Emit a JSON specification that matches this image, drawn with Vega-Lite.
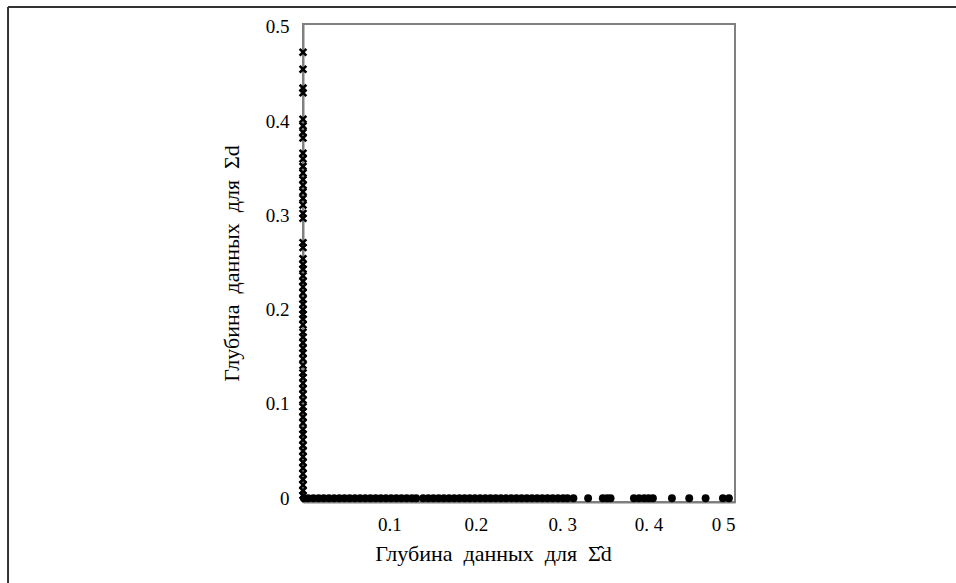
{
  "$schema": "https://vega.github.io/schema/vega-lite/v6.json",
  "width": 432,
  "height": 478,
  "autosize": "none",
  "padding": {"left": 303, "top": 24, "right": 221, "bottom": 81},
  "background": "white",
  "config": {
    "view": {"stroke": "#808080", "strokeWidth": 2},
    "font": "Liberation Serif",
    "axis": {
      "ticks": false,
      "grid": false,
      "domainColor": "#808080",
      "domainWidth": 2,
      "labelFont": "Liberation Serif",
      "labelFontSize": 19,
      "labelColor": "#000000",
      "titleFont": "Liberation Serif",
      "titleFontSize": 22,
      "titleFontWeight": "normal",
      "titleColor": "#000000"
    }
  },
  "datasets": {
    "vertical": [
      {"x": 0, "y": 0.473}, {"x": 0, "y": 0.455}, {"x": 0, "y": 0.435}, {"x": 0, "y": 0.430},
      {"x": 0, "y": 0.402}, {"x": 0, "y": 0.395}, {"x": 0, "y": 0.388}, {"x": 0, "y": 0.382},
      {"x": 0, "y": 0.366}, {"x": 0, "y": 0.360}, {"x": 0, "y": 0.352}, {"x": 0, "y": 0.345},
      {"x": 0, "y": 0.338}, {"x": 0, "y": 0.332}, {"x": 0, "y": 0.325}, {"x": 0, "y": 0.318},
      {"x": 0, "y": 0.311}, {"x": 0, "y": 0.302}, {"x": 0, "y": 0.297}, {"x": 0, "y": 0.271},
      {"x": 0, "y": 0.266}, {"x": 0, "y": 0.254}, {"x": 0, "y": 0.248}, {"x": 0, "y": 0.243},
      {"x": 0, "y": 0.236}, {"x": 0, "y": 0.230}, {"x": 0, "y": 0.224}, {"x": 0, "y": 0.218},
      {"x": 0, "y": 0.211}, {"x": 0, "y": 0.206}, {"x": 0, "y": 0.200}, {"x": 0, "y": 0.195},
      {"x": 0, "y": 0.190}, {"x": 0, "y": 0.184}, {"x": 0, "y": 0.176}, {"x": 0, "y": 0.171},
      {"x": 0, "y": 0.165}, {"x": 0, "y": 0.159}, {"x": 0, "y": 0.154}, {"x": 0, "y": 0.148},
      {"x": 0, "y": 0.141}, {"x": 0, "y": 0.133}, {"x": 0, "y": 0.128}, {"x": 0, "y": 0.122},
      {"x": 0, "y": 0.116}, {"x": 0, "y": 0.110}, {"x": 0, "y": 0.104}, {"x": 0, "y": 0.097},
      {"x": 0, "y": 0.092}, {"x": 0, "y": 0.086}, {"x": 0, "y": 0.080}, {"x": 0, "y": 0.073},
      {"x": 0, "y": 0.068}, {"x": 0, "y": 0.062}, {"x": 0, "y": 0.056}, {"x": 0, "y": 0.050},
      {"x": 0, "y": 0.044}, {"x": 0, "y": 0.038}, {"x": 0, "y": 0.032}, {"x": 0, "y": 0.026},
      {"x": 0, "y": 0.020}, {"x": 0, "y": 0.014}, {"x": 0, "y": 0.008}, {"x": 0, "y": 0.003}
    ],
    "horizontal": [
      {"x": 0.001, "y": 0}, {"x": 0.006, "y": 0}, {"x": 0.012, "y": 0}, {"x": 0.018, "y": 0},
      {"x": 0.024, "y": 0}, {"x": 0.030, "y": 0}, {"x": 0.036, "y": 0}, {"x": 0.042, "y": 0},
      {"x": 0.048, "y": 0}, {"x": 0.054, "y": 0}, {"x": 0.060, "y": 0}, {"x": 0.066, "y": 0},
      {"x": 0.072, "y": 0}, {"x": 0.078, "y": 0}, {"x": 0.084, "y": 0}, {"x": 0.090, "y": 0},
      {"x": 0.096, "y": 0}, {"x": 0.102, "y": 0}, {"x": 0.108, "y": 0}, {"x": 0.114, "y": 0},
      {"x": 0.120, "y": 0}, {"x": 0.126, "y": 0}, {"x": 0.131, "y": 0}, {"x": 0.139, "y": 0},
      {"x": 0.145, "y": 0}, {"x": 0.151, "y": 0}, {"x": 0.157, "y": 0}, {"x": 0.163, "y": 0},
      {"x": 0.169, "y": 0}, {"x": 0.175, "y": 0}, {"x": 0.181, "y": 0}, {"x": 0.187, "y": 0},
      {"x": 0.193, "y": 0}, {"x": 0.199, "y": 0}, {"x": 0.205, "y": 0}, {"x": 0.211, "y": 0},
      {"x": 0.217, "y": 0}, {"x": 0.223, "y": 0}, {"x": 0.229, "y": 0}, {"x": 0.235, "y": 0},
      {"x": 0.241, "y": 0}, {"x": 0.247, "y": 0}, {"x": 0.253, "y": 0}, {"x": 0.259, "y": 0},
      {"x": 0.265, "y": 0}, {"x": 0.271, "y": 0}, {"x": 0.277, "y": 0}, {"x": 0.283, "y": 0},
      {"x": 0.289, "y": 0}, {"x": 0.295, "y": 0}, {"x": 0.301, "y": 0}, {"x": 0.306, "y": 0},
      {"x": 0.313, "y": 0}, {"x": 0.330, "y": 0}, {"x": 0.347, "y": 0}, {"x": 0.352, "y": 0},
      {"x": 0.356, "y": 0}, {"x": 0.383, "y": 0}, {"x": 0.389, "y": 0}, {"x": 0.395, "y": 0},
      {"x": 0.400, "y": 0}, {"x": 0.405, "y": 0}, {"x": 0.427, "y": 0}, {"x": 0.447, "y": 0},
      {"x": 0.466, "y": 0}, {"x": 0.486, "y": 0}, {"x": 0.493, "y": 0}
    ]
  },
  "layer": [
    {
      "data": {"name": "horizontal"},
      "mark": {"type": "point", "shape": "circle", "filled": true, "color": "#000000", "size": 62, "opacity": 1},
      "encoding": {
        "x": {
          "field": "x",
          "type": "quantitative",
          "scale": {"domain": [0, 0.5], "nice": false, "zero": false},
          "axis": {
            "values": [0.1, 0.2, 0.3, 0.4, 0.5],
            "format": ".1f",
            "labelExpr": "datum.value == 0.3 ? '0. 3' : datum.value == 0.4 ? '0. 4' : datum.value == 0.5 ? '0 5' : datum.label",
            "labelPadding": 13,
            "titlePadding": 9,
            "titleX": 190,
            "title": "Глубина\u00a0 данных\u00a0 для\u00a0 Σ\u0302d"
          }
        },
        "y": {
          "field": "y",
          "type": "quantitative",
          "scale": {"domain": [-0.004, 0.503], "nice": false, "zero": false},
          "axis": {
            "values": [0, 0.1, 0.2, 0.3, 0.4, 0.5],
            "format": ".1f",
            "labelExpr": "datum.value == 0 ? '0' : datum.label",
            "labelPadding": 14,
            "titlePadding": 22,
            "title": "Глубина\u00a0 данных\u00a0 для\u00a0 Σd"
          }
        }
      }
    },
    {
      "data": {"name": "vertical"},
      "mark": {"type": "point", "shape": "M -1 -1 L 1 1 M 1 -1 L -1 1", "filled": false, "color": "#000000", "strokeWidth": 2.6, "size": 45, "opacity": 1},
      "encoding": {
        "x": {"field": "x", "type": "quantitative"},
        "y": {"field": "y", "type": "quantitative"}
      }
    },
    {
      "data": {"values": [{"a": 1}]},
      "mark": {"type": "rule", "color": "#333333", "strokeWidth": 2, "clip": false},
      "encoding": {
        "x": {"datum": -0.3414, "type": "quantitative"},
        "x2": {"datum": 0.8},
        "y": {"datum": 0.521, "type": "quantitative"}
      }
    },
    {
      "data": {"values": [{"a": 1}]},
      "mark": {"type": "rule", "color": "#333333", "strokeWidth": 2, "clip": false},
      "encoding": {
        "x": {"datum": -0.3414, "type": "quantitative"},
        "y": {"datum": 0.521, "type": "quantitative"},
        "y2": {"datum": -0.2}
      }
    }
  ]
}
